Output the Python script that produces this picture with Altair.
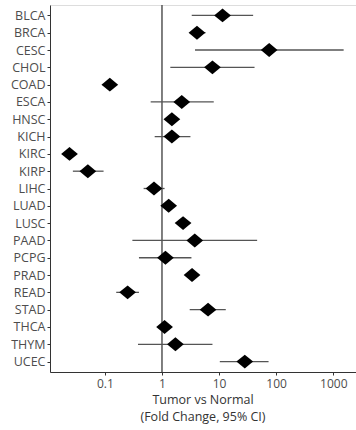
import altair as alt
import pandas as pd

cats = ["BLCA", "BRCA", "CESC", "CHOL", "COAD", "ESCA", "HNSC", "KICH", "KIRC", "KIRP",
        "LIHC", "LUAD", "LUSC", "PAAD", "PCPG", "PRAD", "READ", "STAD", "THCA", "THYM", "UCEC"]
fc = [11.5, 4.1, 75.4, 7.66, 0.122, 2.22, 1.49, 1.49, 0.024, 0.0503,
      0.724, 1.31, 2.34, 3.75, 1.15, 3.36, 0.25, 6.41, 1.11, 1.72, 28.2]
lo = [3.32, 3.2, 3.79, 1.40, 0.105, 0.634, 1.2, 0.745, 0.020, 0.0275,
      0.477, 1.1, 2.0, 0.303, 0.395, 3.0, 0.158, 3.06, 0.95, 0.38, 10.3]
hi = [39.5, 5.8, 1520, 41.8, 0.14, 8.07, 2.0, 3.15, 0.028, 0.0948,
      1.11, 1.55, 2.7, 46.4, 3.28, 3.8, 0.395, 13.1, 1.3, 7.66, 73.6]
ticks = [0.1, 1, 10, 100, 1000]

df = pd.DataFrame({"cancer": cats, "fc": fc, "lo": lo, "hi": hi})

FONT = "Open Sans"
xscale = alt.Scale(type="log", domain=[0.01093, 2502], nice=False)
yscale = alt.Scale(type="point", padding=0.6)

xenc = alt.X("fc:Q", scale=xscale,
             axis=alt.Axis(values=ticks, title=None,
                           labelExpr="format(datum.value, '~g')", grid=False,
                           tickSize=3, labelPadding=3, domainColor="#333333",
                           tickColor="#333333", labelColor="#4d4d4d", labelFontSize=12,
                           labelFont=FONT))
yenc = alt.Y("cancer:N", sort=cats, scale=yscale,
             axis=alt.Axis(title=None, tickSize=3, labelPadding=2, domainColor="#333333",
                           tickColor="#333333", labelColor="#4d4d4d", labelFontSize=12.5,
                           labelFont=FONT, grid=False))

base = alt.Chart(df)

ci = base.mark_rule(color="#555555", strokeWidth=1.3).encode(
    x=alt.X("lo:Q", scale=xscale), x2="hi:Q", y=yenc)

ref = alt.Chart(pd.DataFrame({"v": [1]})).mark_rule(color="#555555", strokeWidth=1.5).encode(
    x=alt.X("v:Q", scale=xscale))

pts = base.mark_point(shape="M0,-0.83L1,0L0,0.83L-1,0Z", size=280, filled=True,
                      color="black", opacity=1).encode(x=xenc, y=yenc)

title = alt.TitleParams(
    text="Tumor vs Normal", subtitle="(Fold Change, 95% CI)",
    orient="bottom", anchor="middle", font=FONT, fontSize=12.5, fontWeight="normal",
    color="#333333", subtitleFont=FONT, subtitleFontSize=12.5, subtitleColor="#333333",
    subtitlePadding=4, offset=5)

chart = alt.layer(ci, ref, pts).properties(
    width=306, height=367, title=title,
    autosize=alt.AutoSizeParams(type="none"),
    padding={"left": 50, "top": 5, "right": 0, "bottom": 58},
).configure_view(stroke=None).configure(background="white")

chart.save("out.html", embed_options={"renderer": "svg", "actions": False})
